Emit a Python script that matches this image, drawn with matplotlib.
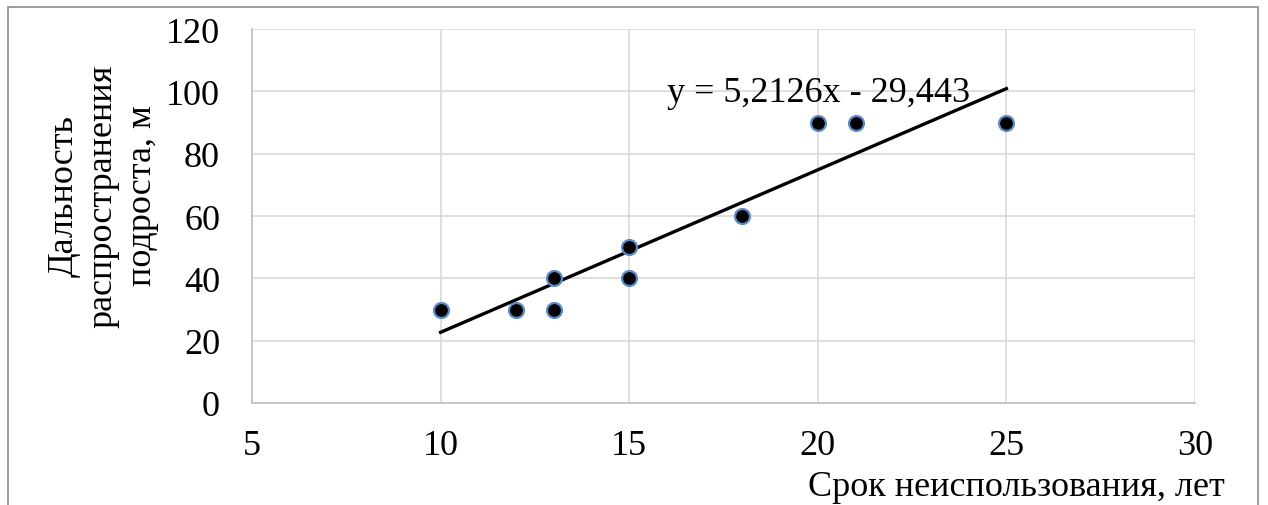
import matplotlib.pyplot as plt
import numpy as np
from matplotlib.patches import Rectangle

years = np.array([10, 12, 13, 13, 15, 15, 18, 20, 21, 25])
distance = np.array([30, 30, 40, 30, 50, 40, 60, 90, 90, 90])
x_ticks = [5, 10, 15, 20, 25, 30]
y_ticks = [0, 20, 40, 60, 80, 100, 120]

plt.rcParams['font.family'] = ['Liberation Serif', 'DejaVu Serif']

fig = plt.figure(figsize=(12.68, 5.06), dpi=100)
ax = fig.add_axes([252 / 1268, 102 / 506, 943 / 1268, 374 / 506])

# linear trend
slope, intercept = np.polyfit(years, distance, 1)
xs = np.array([years.min(), years.max()])
ax.plot(xs, slope * xs + intercept, color='black', lw=2.4, zorder=3)

ax.scatter(years, distance, s=115, color='black', edgecolors='#5b8ac6',
           linewidths=1.6, zorder=4)

eq = f"y = {slope:.4f}x - {abs(intercept):.3f}".replace('.', ',')
ax.text(16.0, 99.5, eq, fontsize=26, ha='left', va='center', zorder=5)

ax.set_xlim(5, 30)
ax.set_ylim(0, 120)
ax.set_xticks(x_ticks)
ax.set_yticks(y_ticks)
ax.grid(True, color='#d9d9d9', lw=1.2)
ax.set_axisbelow(True)
for side, s in ax.spines.items():
    if side in ('left', 'bottom'):
        s.set_color('#bfbfbf')
        s.set_linewidth(1.2)
    else:
        s.set_visible(False)
ax.tick_params(length=0, labelsize=26)
ax.tick_params(axis='y', pad=23)
ax.tick_params(axis='x', pad=19)

fig.text(103 / 1268, 310 / 506, "Дальность\nраспространения\nподроста, м",
         rotation=90, ha='center', va='center', fontsize=26, linespacing=1.25)
fig.text(1225 / 1268, 18 / 506, "Срок неиспользования, лет",
         ha='right', va='center', fontsize=26)

fig.patches.append(Rectangle((8 / 1268, -0.1), 1250 / 1268, 1.1 - 8 / 506,
                             transform=fig.transFigure, fill=False,
                             edgecolor='#8c8c8c', lw=1.2))

fig.savefig('out.png')
